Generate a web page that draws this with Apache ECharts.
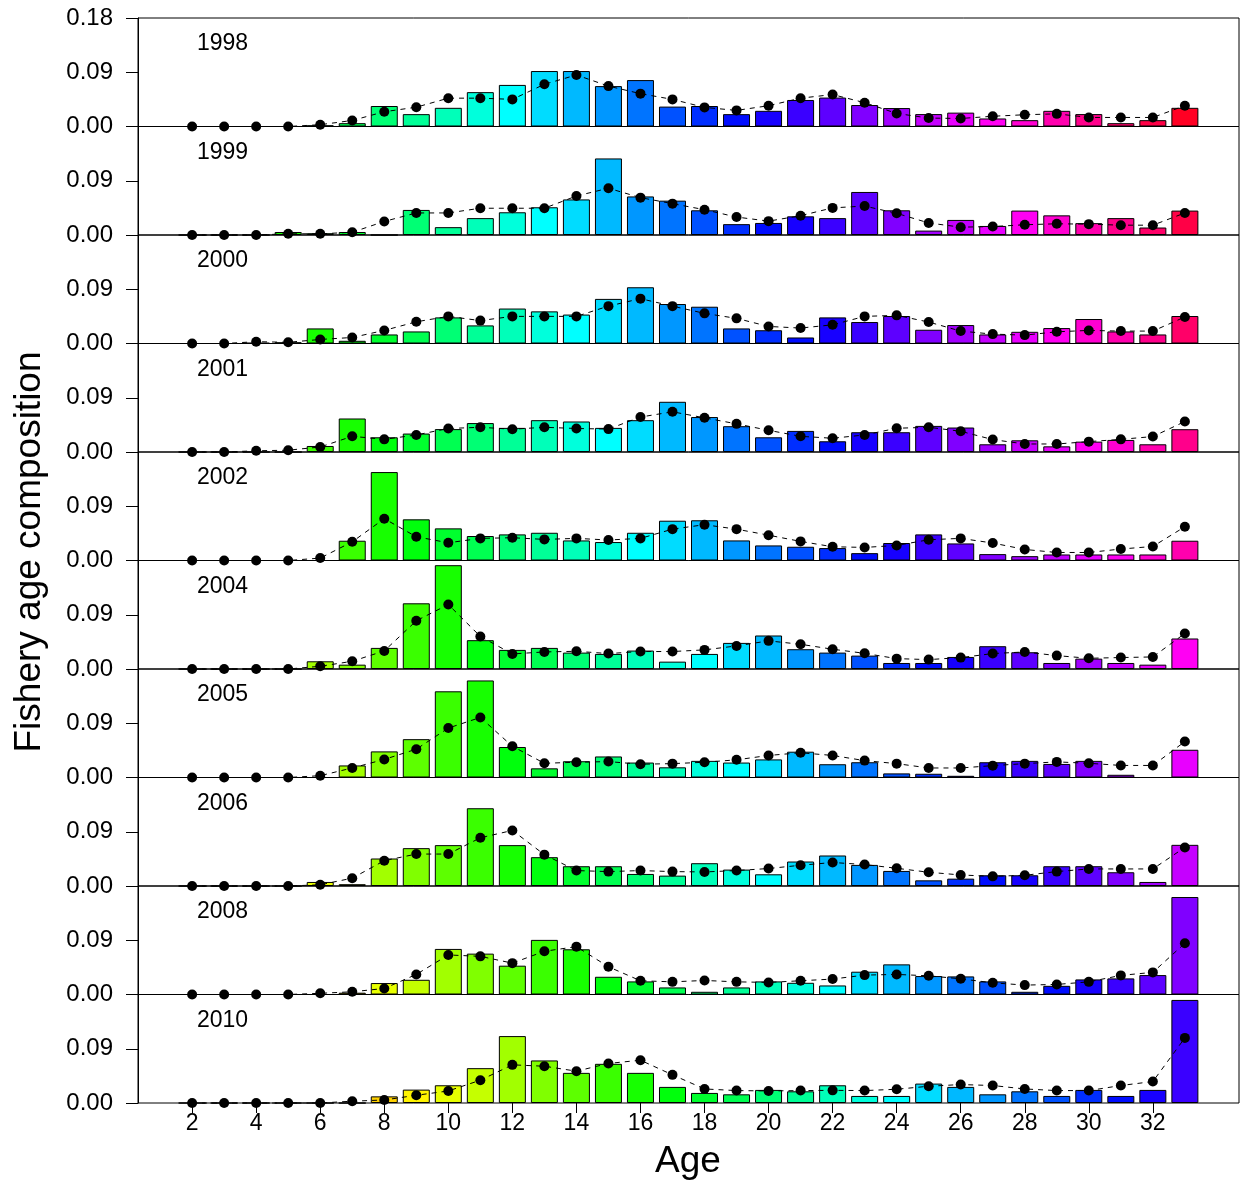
<!DOCTYPE html>
<html>
<head>
<meta charset="utf-8">
<script src="https://cdn.jsdelivr.net/npm/echarts@6/dist/echarts.min.js"></script>
<style>
html,body{margin:0;padding:0;background:#fff;}
#chart{width:1240px;height:1186px;}
</style>
</head>
<body>
<div id="chart"></div>
<script>
const ages = [2,3,4,5,6,7,8,9,10,11,12,13,14,15,16,17,18,19,20,21,22,23,24,25,26,27,28,29,30,31,32,33];
const years = [1998,1999,2000,2001,2002,2004,2005,2006,2008,2010];
const xTicks = [2,4,6,8,10,12,14,16,18,20,22,24,26,28,30,32];
const yTicks = [0,0.09,0.18];

const obs1998 = [0,0,0,0,0.002,0.0055,0.034,0.0205,0.031,0.057,0.069,0.092,0.092,0.067,0.077,0.033,0.034,0.0205,0.026,0.044,0.048,0.0356,0.0306,0.0206,0.023,0.0133,0.0105,0.026,0.0206,0.0055,0.0105,0.031];
const fit1998 = [0,0,0,0,0.003,0.010,0.0245,0.032,0.047,0.047,0.045,0.070,0.0855,0.067,0.0545,0.045,0.0317,0.0267,0.0345,0.047,0.053,0.0395,0.0217,0.014,0.0133,0.017,0.0195,0.021,0.015,0.015,0.015,0.0345];
const obs1999 = [0,0,0,0.005,0.003,0.005,0,0.0416,0.013,0.028,0.0377,0.046,0.059,0.127,0.064,0.057,0.041,0.018,0.020,0.031,0.028,0.0714,0.041,0.0073,0.025,0.015,0.0405,0.0326,0.0197,0.028,0.0124,0.0405];
const fit1999 = [0,0,0,0.002,0.002,0.0045,0.0225,0.0366,0.0366,0.0444,0.0444,0.0444,0.0647,0.0776,0.062,0.052,0.042,0.0298,0.023,0.032,0.045,0.048,0.036,0.020,0.013,0.014,0.017,0.0186,0.018,0.0163,0.0163,0.0366];
const obs2000 = [0,0,0.001,0.002,0.025,0.0045,0.015,0.020,0.0433,0.030,0.058,0.0533,0.048,0.074,0.0933,0.0655,0.061,0.025,0.022,0.010,0.0433,0.0356,0.0456,0.0228,0.0306,0.015,0.0194,0.0256,0.0406,0.020,0.015,0.0456];
const fit2000 = [0,0,0.003,0.002,0.0067,0.010,0.0217,0.036,0.045,0.038,0.045,0.045,0.045,0.062,0.0744,0.062,0.050,0.0417,0.0283,0.0256,0.031,0.045,0.0467,0.0356,0.0206,0.0156,0.0139,0.0194,0.0217,0.0206,0.0206,0.044];
const obs2001 = [0,0,0,0,0.010,0.0556,0.0244,0.0306,0.038,0.048,0.040,0.0528,0.0506,0.040,0.0528,0.0833,0.058,0.0428,0.0244,0.035,0.0178,0.0328,0.0328,0.0433,0.0406,0.0128,0.0194,0.0094,0.0172,0.020,0.0128,0.0378];
const fit2001 = [0,0,0.002,0.003,0.0083,0.026,0.021,0.0283,0.039,0.041,0.0378,0.041,0.039,0.038,0.058,0.0667,0.0567,0.0467,0.036,0.026,0.0228,0.0283,0.0394,0.041,0.0344,0.0206,0.0133,0.0133,0.0172,0.021,0.0256,0.0506];
const obs2002 = [0,0,0,0,0,0.0328,0.1467,0.0683,0.0533,0.0406,0.0433,0.046,0.0333,0.0306,0.046,0.066,0.0667,0.0333,0.025,0.0228,0.0206,0.0122,0.029,0.0433,0.0283,0.0106,0.0072,0.010,0.010,0.010,0.010,0.0328];
const fit2002 = [0,0,0,0,0.004,0.031,0.0694,0.0394,0.0294,0.0367,0.0378,0.035,0.0367,0.034,0.0367,0.052,0.0594,0.052,0.042,0.0317,0.0228,0.0217,0.025,0.0344,0.0367,0.029,0.0183,0.0133,0.0133,0.019,0.0233,0.056];
const obs2004 = [0,0,0,0,0.0128,0.0072,0.035,0.109,0.1722,0.0478,0.0317,0.035,0.0272,0.025,0.0306,0.0122,0.025,0.0433,0.0556,0.0328,0.0272,0.0222,0.010,0.010,0.020,0.0378,0.0278,0.010,0.0172,0.010,0.0072,0.0506];
const fit2004 = [0,0,0,0,0.0045,0.0128,0.030,0.080,0.107,0.054,0.025,0.0283,0.0294,0.0256,0.029,0.029,0.0317,0.0383,0.0467,0.041,0.0328,0.026,0.0172,0.0156,0.0189,0.0256,0.0283,0.0222,0.0178,0.019,0.020,0.059];
const obs2005 = [0,0,0,0,0,0.020,0.0433,0.0636,0.143,0.161,0.0506,0.0152,0.027,0.0349,0.0248,0.0169,0.0276,0.0248,0.030,0.0428,0.022,0.0253,0.0068,0.0062,0.0028,0.0253,0.0276,0.0225,0.0276,0.0045,0,0.046];
const fit2005 = [0,0,0,0,0.003,0.0158,0.030,0.047,0.082,0.0996,0.0518,0.0236,0.0253,0.0264,0.022,0.023,0.0253,0.0293,0.0366,0.041,0.0366,0.028,0.023,0.0158,0.0158,0.0197,0.023,0.0259,0.0236,0.020,0.020,0.0596];
const obs2006 = [0,0,0,0,0.0067,0.003,0.0456,0.0628,0.0678,0.129,0.0678,0.0478,0.0328,0.0328,0.020,0.0172,0.0378,0.0272,0.0194,0.0406,0.0506,0.035,0.025,0.0094,0.0122,0.0178,0.0178,0.0328,0.0328,0.0228,0.0067,0.0683];
const fit2006 = [0,0,0,0,0.002,0.013,0.042,0.053,0.053,0.080,0.0922,0.052,0.0256,0.0239,0.0256,0.0239,0.0233,0.0256,0.029,0.0344,0.039,0.0356,0.0294,0.0228,0.0183,0.016,0.0178,0.0239,0.0283,0.0283,0.0283,0.064];
const obs2008 = [0,0,0,0,0,0.003,0.019,0.0244,0.0756,0.0678,0.0478,0.0906,0.075,0.0294,0.0217,0.0117,0.0045,0.0117,0.0217,0.0194,0.015,0.0378,0.050,0.0306,0.030,0.0217,0.0045,0.0144,0.025,0.0267,0.0322,0.1617];
const fit2008 = [0,0,0,0,0.002,0.0045,0.010,0.0333,0.0656,0.0633,0.052,0.0717,0.0794,0.046,0.0228,0.021,0.0233,0.021,0.020,0.0228,0.0256,0.0322,0.0333,0.031,0.026,0.0194,0.0156,0.0167,0.021,0.0317,0.0367,0.085];
const obs2010 = [0,0,0,0,0,0,0.011,0.0222,0.0294,0.0578,0.111,0.0706,0.050,0.065,0.050,0.0267,0.0167,0.0144,0.0217,0.0194,0.0294,0.0117,0.0117,0.0322,0.0267,0.0144,0.0194,0.0117,0.0217,0.0117,0.0217,0.171];
const fit2010 = [0,0,0,0,0,0.003,0.005,0.0128,0.020,0.0378,0.0633,0.061,0.0528,0.0656,0.071,0.0467,0.0233,0.0206,0.020,0.0206,0.021,0.0206,0.0228,0.0278,0.0306,0.029,0.0233,0.0206,0.0206,0.029,0.0356,0.108];

const observed = [obs1998,obs1999,obs2000,obs2001,obs2002,obs2004,obs2005,obs2006,obs2008,obs2010];
const fitted = [fit1998,fit1999,fit2000,fit2001,fit2002,fit2004,fit2005,fit2006,fit2008,fit2010];

// cohort colours: rainbow over cohorts (newest = red)
const newestCohort = 2008, nCohorts = 44;
function hsvColor(h){
  const i = Math.floor(h*6), f = h*6 - i;
  let r,g,b;
  switch(((i%6)+6)%6){
    case 0: r=1; g=f; b=0; break;
    case 1: r=1-f; g=1; b=0; break;
    case 2: r=0; g=1; b=f; break;
    case 3: r=0; g=1-f; b=1; break;
    case 4: r=f; g=0; b=1; break;
    default: r=1; g=0; b=1-f;
  }
  const c = v => Math.round(v*255).toString(16).padStart(2,'0');
  return '#'+c(r)+c(g)+c(b);
}
function cohortColor(year, age){
  const idx = newestCohort - (year - age);
  return hsvColor(idx / nCohorts);
}

const FONT = 'Liberation Sans, Arial, sans-serif';
const plotTop = 18, panelH = 108.5, plotLeft = 138, plotW = 1101;
const n = years.length;

const grids = [], xAxes = [], yAxes = [], series = [], graphics = [];
years.forEach((yr, i) => {
  const top = plotTop + i*panelH;
  const last = i === n-1;
  grids.push({left: plotLeft, top: top, width: plotW, height: panelH,
    show: true, borderColor: '#000', borderWidth: 1, backgroundColor: 'transparent'});
  xAxes.push({type: 'value', gridIndex: i, min: 0.31, max: 34.69,
    axisLine: {show: false}, splitLine: {show: false},
    axisTick: {show: last, customValues: xTicks, length: 10, lineStyle: {color: '#000', width: 1}},
    axisLabel: {show: last, customValues: xTicks, color: '#000', fontSize: 23, fontFamily: FONT, margin: 9}
  });
  yAxes.push({type: 'value', gridIndex: i, min: 0, max: 0.18, interval: 0.09,
    axisLine: {show: true, lineStyle: {color: '#000', width: 1}},
    splitLine: {show: false},
    axisTick: {show: true, length: 12, lineStyle: {color: '#000', width: 1}},
    axisLabel: {show: true, showMaxLabel: i === 0, color: '#000', fontSize: 24, fontFamily: FONT, margin: 25,
      formatter: v => v.toFixed(2)}
  });
  series.push({type: 'bar', xAxisIndex: i, yAxisIndex: i, barWidth: 27,
    data: ages.map((a, k) => ({value: [a, observed[i][k]],
      itemStyle: {color: cohortColor(yr, a), borderColor: '#000', borderWidth: 1}})),
    animation: false, z: 2});
  series.push({type: 'line', xAxisIndex: i, yAxisIndex: i,
    data: ages.map((a, k) => [a, fitted[i][k]]),
    symbol: 'circle', symbolSize: 10, showSymbol: true,
    itemStyle: {color: '#000'},
    lineStyle: {color: '#000', width: 1, type: [5, 5]},
    animation: false, z: 3, clip: false});
  graphics.push({type: 'text', x: 197, y: top + 26,
    style: {text: String(yr), font: '23px ' + FONT, fill: '#000', textVerticalAlign: 'middle', textAlign: 'left'}, z: 10});
});

graphics.push({type: 'text', x: 30, y: 552, rotation: Math.PI/2,
  style: {text: 'Fishery age composition', font: '37px ' + FONT, fill: '#000', textAlign: 'center', textVerticalAlign: 'middle'}});
graphics.push({type: 'text', x: 688, y: 1162,
  style: {text: 'Age', font: '37px ' + FONT, fill: '#000', textAlign: 'center', textVerticalAlign: 'middle'}});

const chart = echarts.init(document.getElementById('chart'), null, {renderer: 'canvas'});
chart.setOption({
  backgroundColor: '#fff',
  animation: false,
  grid: grids, xAxis: xAxes, yAxis: yAxes, series: series, graphic: graphics
});
</script>
</body>
</html>
